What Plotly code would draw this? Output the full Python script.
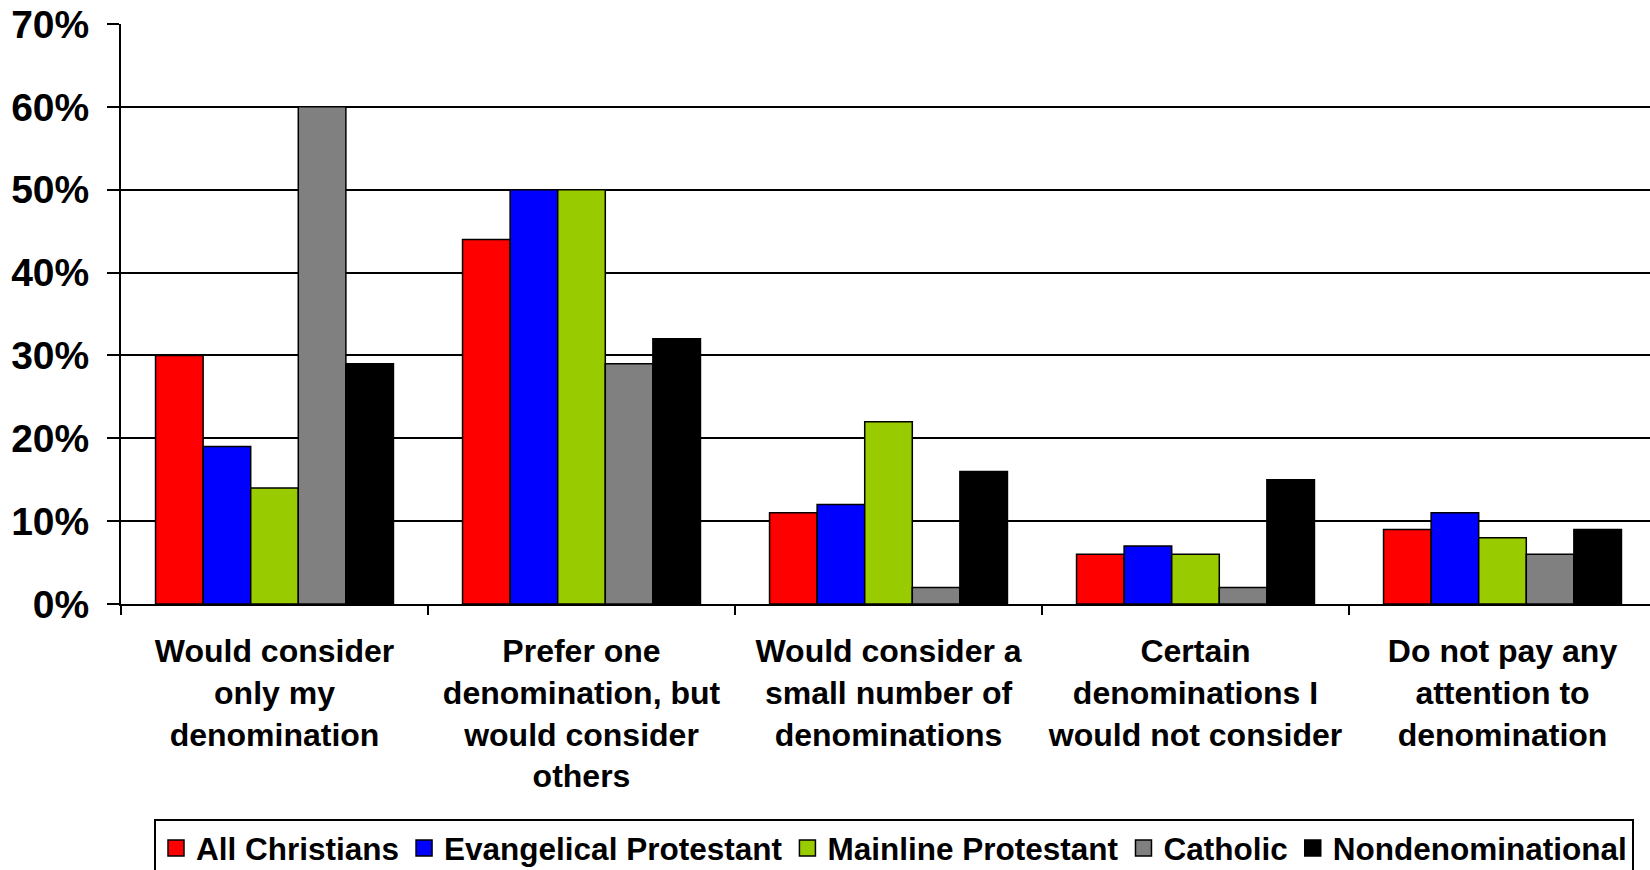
import plotly.graph_objects as go

# Survey responses: attitude toward denomination when choosing a church (% of respondents)
categories = [
    "Would consider<br>only my<br>denomination",
    "Prefer one<br>denomination, but<br>would consider<br>others",
    "Would consider a<br>small number of<br>denominations",
    "Certain<br>denominations I<br>would not consider",
    "Do not pay any<br>attention to<br>denomination",
]

all_christians = [30, 44, 11, 6, 9]
evangelical = [19, 50, 12, 7, 11]
mainline = [14, 50, 22, 6, 8]
catholic = [60, 29, 2, 2, 6]
nondenominational = [29, 32, 16, 15, 9]

series_names = ["All Christians", "Evangelical Protestant", "Mainline Protestant",
                "Catholic", "Nondenominational"]
series_values = [all_christians, evangelical, mainline, catholic, nondenominational]
series_colors = ["#FF0000", "#0000FF", "#99CC00", "#808080", "#000000"]

y_ticks = [0, 10, 20, 30, 40, 50, 60, 70]
y_tick_labels = [f"{v}%" for v in y_ticks]

FONT = "Liberation Sans, Arial, sans-serif"

fig = go.Figure()

for name, vals, col in zip(series_names, series_values, series_colors):
    fig.add_trace(go.Bar(
        x=categories, y=vals, name=name,
        marker=dict(color=col, line=dict(color="#000000", width=1.5)),
        showlegend=False,
    ))

# legend entries with larger square swatches
for name, col in zip(series_names, series_colors):
    fig.add_trace(go.Scatter(
        x=[None], y=[None], mode="markers", name=name,
        marker=dict(symbol="square", size=18, color=col,
                    line=dict(color="#000000", width=1.5)),
    ))

W, H = 1650, 870
left, top, bottom = 121, 24, 604
plot_w = W - left
cat_w = 307

fig.update_layout(
    width=W, height=H,
    margin=dict(l=left, r=0, t=top, b=H - bottom, pad=0, autoexpand=False),
    paper_bgcolor="white", plot_bgcolor="white",
    barmode="group", bargap=0.225, bargroupgap=0,
    font=dict(family=FONT, color="#000000"),
    legend=dict(
        orientation="h",
        x=(154 - left) / plot_w, xanchor="left",
        y=(bottom - 819) / (bottom - top), yanchor="top",
        bordercolor="#000000", borderwidth=2,
        font=dict(family=FONT, size=31.5, weight="bold", color="#000000"),
        tracegroupgap=0,
    ),
)

fig.update_xaxes(
    type="category",
    categoryorder="array", categoryarray=categories,
    range=[-0.5, -0.5 + plot_w / cat_w],
    tickson="boundaries", ticks="outside", ticklen=9, tickwidth=2, tickcolor="#000000",
    showline=True, linecolor="#000000", linewidth=2,
    showgrid=False, zeroline=False,
    tickfont=dict(family=FONT, size=32, weight="bold", color="#000000"),
    ticklabelstandoff=18,
    tickangle=0,
    automargin=False,
)

fig.update_yaxes(
    range=[0, 70],
    tickmode="array", tickvals=y_ticks, ticktext=y_tick_labels,
    ticks="outside", ticklen=12, tickwidth=2, tickcolor="#000000",
    showline=True, linecolor="#000000", linewidth=2,
    showgrid=True, gridcolor="#000000", gridwidth=2,
    zeroline=False,
    tickfont=dict(family=FONT, size=39, weight="bold", color="#000000"),
    ticklabelstandoff=10,
    automargin=False,
)

fig.write_html("out.html")
